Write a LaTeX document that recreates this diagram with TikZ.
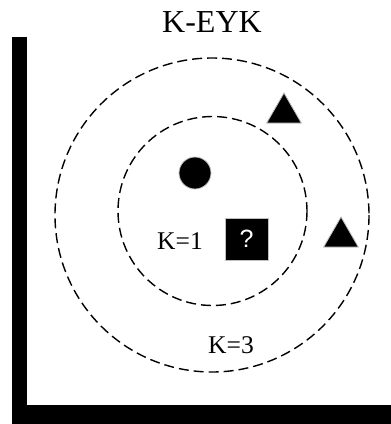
\documentclass[tikz,border=0pt]{standalone}
\usepackage{fontspec}
\setmainfont{Liberation Serif}
\newfontfamily\qfont{Liberation Sans}
\usetikzlibrary{shapes.geometric}

\begin{document}
\begin{tikzpicture}[
  x=1pt, y=-1pt,
  vongk/.style={
    draw=black, line width=1.4pt, dash pattern=on 10pt off 5pt
  },
  diemtron/.style={
    circle, fill=black, draw=black!25, line width=0.8pt,
    minimum size=32pt, inner sep=0pt
  },
  diemtamgiac/.style={
    regular polygon, regular polygon sides=3, fill=black,
    draw=black!25, line width=0.8pt, minimum size=40pt, inner sep=0pt
  },
  diemhoi/.style={
    rectangle, fill=black, draw=black!25, line width=0.8pt,
    minimum width=43pt, minimum height=42pt, inner sep=0pt,
    text=white, font=\qfont\fontsize{25}{25}\selectfont
  },
  nhan/.style={font=\fontsize{25.5}{25.5}\selectfont, inner sep=0pt}
]
\useasboundingbox (0,0) rectangle (391,424);

% ── Truc toa do ──
\fill[black] (12,37) rectangle (27,424);
\fill[black] (12,405) rectangle (391,424);

% ── Tieu de ──
\node[font=\fontsize{32}{32}\selectfont, inner sep=0pt] (tieude) at (212,22) {K-EYK};

% ── Hai vong lan can ──
\def\Rngoai{157}
\def\Rtrong{94.5}
\draw[vongk] (212,215) circle (\Rngoai);
\draw[vongk] (212.5,211) circle (\Rtrong);

% ── Cac diem du lieu ──
\node[diemtron] (tron) at (195,173) {};
\node[diemtamgiac] (tgA) at (284,113) {};
\node[diemtamgiac] (tgB) at (341,237) {};
\node[diemhoi] (hoi) at (246.5,239) {?};

% ── Nhan K ──
\node[nhan] (k1) at (180,241) {K=1};
\node[nhan] (k3) at (231,345) {K=3};

\end{tikzpicture}
\end{document}
